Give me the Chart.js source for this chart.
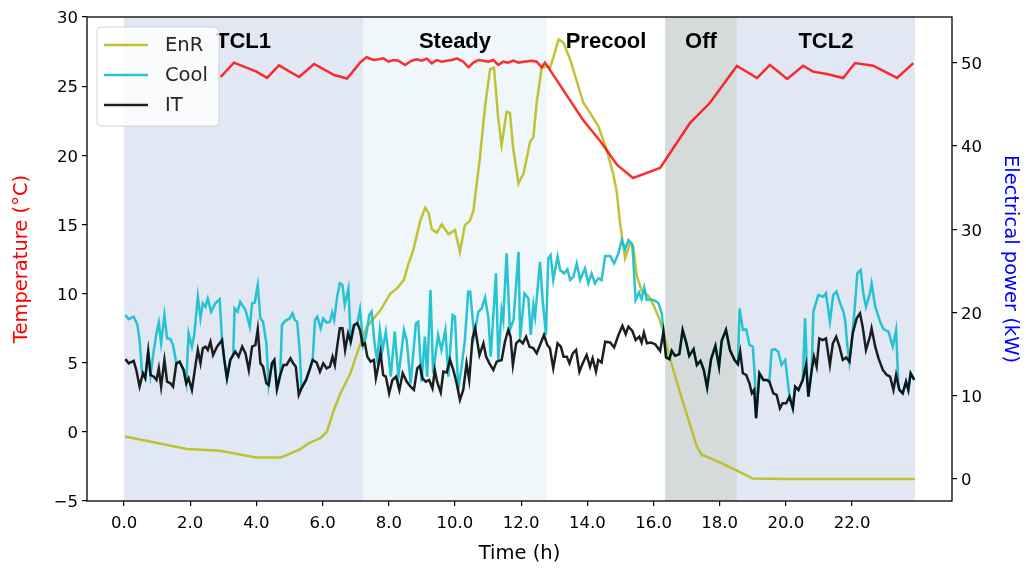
<!DOCTYPE html>
<html>
<head>
<meta charset="utf-8">
<script src="https://cdn.jsdelivr.net/npm/chart.js@4.4.1/dist/chart.umd.min.js"></script>
<style>
  html, body { margin: 0; padding: 0; background: #fff; }
  #wrap { width: 1026px; height: 570px; }
</style>
</head>
<body>
<div id="wrap"><canvas id="chart" width="1026" height="570"></canvas></div>
<script>
// Operating phases (hours)
const phaseLabels = ['TCL1', 'Steady', 'Precool', 'Off', 'TCL2'];
const phaseStart = [0, 7.22, 12.78, 16.35, 18.52];
const phaseEnd = [7.22, 12.78, 16.35, 18.52, 23.9];
const phaseColors = ['#e1e8f3', '#eff7fa', 'rgba(255,255,255,0)', '#d5dbdb', '#e1e8f3'];

const xTicks = [0, 2, 4, 6, 8, 10, 12, 14, 16, 18, 20, 22];
const tempTicks = [-5, 0, 5, 10, 15, 20, 25, 30];
const powerTicks = [0, 10, 20, 30, 40, 50];

// Room temperature (°C), [hour, value]
const tempData = [
  [2.92, 25.66], [3.32, 26.7], [4.0, 26.05], [4.32, 25.6], [4.68, 26.5], [5.29, 25.66], [5.74, 26.6],
  [6.35, 25.8], [6.74, 25.55], [7.13, 26.7], [7.33, 27.09], [7.54, 26.89], [7.69, 26.94], [7.84, 27.01],
  [7.99, 26.77], [8.14, 26.89], [8.29, 26.84], [8.49, 26.53], [8.69, 26.84], [8.84, 26.94], [8.99, 26.84],
  [9.15, 26.99], [9.30, 26.65], [9.45, 26.89], [9.60, 26.77], [9.75, 26.84], [9.91, 26.89], [10.06, 27.01],
  [10.25, 26.77], [10.41, 26.36], [10.56, 26.70], [10.71, 26.89], [10.86, 26.84], [11.01, 26.77], [11.16, 26.89],
  [11.31, 26.53], [11.46, 26.77], [11.61, 26.70], [11.76, 26.84], [11.92, 26.70], [12.07, 26.77], [12.32, 26.84],
  [12.47, 26.77], [12.62, 26.36], [12.72, 26.70], [12.82, 26.36], [13.87, 22.55], [14.4, 21.0], [14.9, 19.3],
  [15.38, 18.36], [16.2, 19.08], [17.1, 22.33], [17.7, 23.78], [18.52, 26.46], [19.13, 25.59], [19.52, 26.53],
  [20.04, 25.52], [20.52, 26.48], [20.82, 26.05], [21.24, 25.88], [21.73, 25.59], [22.09, 26.67], [22.64, 26.48],
  [23.36, 25.59], [23.85, 26.67]
];

// Renewable power (kW)
const enrData = [
  [0.03, 5.1], [1.9, 3.6], [2.9, 3.4], [4.0, 2.6], [4.73, 2.6], [4.93, 2.9], [5.33, 3.6], [5.58, 4.3],
  [5.93, 4.9], [6.13, 5.7], [6.34, 8.3], [6.54, 10.3], [6.84, 12.7], [7.04, 15.1], [7.34, 18.3], [7.75, 20.3],
  [8.05, 22.3], [8.25, 22.9], [8.45, 23.9], [8.6, 25.9], [8.74, 27.5], [8.95, 31.0], [9.1, 32.6], [9.2, 32.0],
  [9.3, 30.0], [9.45, 29.6], [9.6, 30.6], [9.8, 29.4], [10.0, 29.9], [10.15, 27.3], [10.3, 30.5], [10.45, 31.0],
  [10.56, 32.3], [10.75, 38.5], [10.91, 44.8], [11.06, 49.2], [11.18, 49.4], [11.31, 43.2], [11.41, 40.1],
  [11.56, 44.1], [11.66, 44.0], [11.76, 39.7], [11.92, 35.5], [12.07, 36.7], [12.27, 40.5], [12.37, 41.1],
  [12.47, 45.2], [12.62, 49.4], [12.77, 49.6], [12.87, 49.4], [12.97, 50.6], [13.13, 52.8], [13.28, 52.4],
  [13.48, 50.4], [13.68, 47.8], [13.88, 45.2], [14.08, 44.0], [14.33, 42.4], [14.59, 39.5], [14.79, 36.5],
  [14.89, 34.5], [14.99, 30.7], [15.14, 26.5], [15.29, 28.3], [15.39, 27.9], [15.49, 24.5], [15.64, 22.6],
  [15.85, 22.0], [16.0, 20.9], [16.15, 19.5], [16.30, 17.7], [16.45, 15.1], [16.9, 9.1], [17.31, 3.9],
  [17.46, 2.9], [17.61, 2.7], [18.0, 2.0], [18.52, 1.0], [19.0, 0.05], [20.0, 0], [22.0, 0], [23.9, 0]
];

// Cooling power (kW)
const coolData = [
  [0.04, 19.7], [0.14, 19.2], [0.29, 19.5], [0.40, 18.6], [0.47, 16.7], [0.54, 12.9], [0.57, 12.7], [0.64, 12.1],
  [0.73, 15.3], [0.80, 12.5], [0.90, 15.5], [0.98, 17.5], [1.05, 18.8], [1.12, 16.3], [1.22, 19.7], [1.30, 16.9],
  [1.40, 16.8], [1.48, 16.1], [1.58, 13.9], [1.68, 14.1], [1.80, 13.1], [1.88, 11.5], [1.95, 17.5], [2.05, 15.9],
  [2.12, 17.3], [2.23, 21.9], [2.31, 19.3], [2.38, 21.1], [2.46, 20.7], [2.53, 21.7], [2.63, 20.1], [2.76, 21.1],
  [2.89, 21.6], [2.96, 16.7], [3.03, 14.3], [3.11, 12.1], [3.21, 14.3], [3.30, 15.0], [3.34, 20.5], [3.43, 20.1],
  [3.51, 21.3], [3.67, 20.3], [3.80, 18.3], [3.87, 21.1], [3.95, 21.2], [4.04, 23.3], [4.12, 19.3], [4.20, 18.9],
  [4.30, 16.3], [4.37, 11.3], [4.47, 13.9], [4.54, 14.3], [4.62, 10.8], [4.72, 12.5], [4.77, 18.5], [4.87, 19.0],
  [5.01, 19.3], [5.09, 19.9], [5.16, 19.1], [5.23, 18.9], [5.31, 15.3], [5.36, 10.9], [5.50, 11.9], [5.62, 13.3],
  [5.70, 14.3], [5.77, 19.1], [5.84, 19.5], [5.94, 18.1], [6.02, 19.3], [6.12, 18.8], [6.22, 18.9], [6.29, 20.0],
  [6.35, 19.1], [6.44, 21.9], [6.52, 23.5], [6.60, 23.3], [6.67, 20.9], [6.78, 22.9], [6.85, 16.6], [6.95, 18.5],
  [7.05, 18.7], [7.13, 20.4], [7.23, 16.1], [7.31, 17.1], [7.41, 19.7], [7.48, 20.1], [7.58, 15.9], [7.65, 14.3],
  [7.73, 17.9], [7.81, 15.5], [7.91, 17.7], [7.98, 15.3], [8.06, 12.3], [8.18, 17.7], [8.29, 12.3], [8.46, 17.9],
  [8.54, 16.7], [8.66, 11.5], [8.82, 18.7], [8.89, 18.9], [8.99, 11.7], [9.09, 17.1], [9.16, 12.3], [9.26, 22.7],
  [9.34, 12.7], [9.49, 17.3], [9.59, 15.5], [9.71, 17.9], [9.80, 12.3], [9.93, 19.7], [10.00, 19.5], [10.10, 10.7],
  [10.20, 13.5], [10.30, 16.7], [10.40, 22.5], [10.46, 22.5], [10.58, 17.3], [10.71, 20.1], [10.81, 20.5],
  [10.91, 21.8], [11.01, 19.3], [11.08, 14.7], [11.24, 24.7], [11.31, 14.3], [11.41, 20.3], [11.46, 19.1],
  [11.56, 27.1], [11.66, 17.9], [11.77, 19.1], [11.92, 27.3], [11.97, 16.9], [12.10, 22.3], [12.22, 21.7],
  [12.29, 17.3], [12.37, 20.9], [12.42, 19.5], [12.57, 26.1], [12.65, 21.5], [12.75, 17.3], [12.82, 26.5],
  [12.89, 26.9], [12.97, 23.9], [13.10, 26.7], [13.18, 25.1], [13.30, 24.7], [13.40, 25.2], [13.48, 23.9],
  [13.58, 24.3], [13.68, 25.9], [13.78, 23.9], [13.93, 25.3], [14.03, 23.5], [14.13, 24.7], [14.23, 23.5],
  [14.33, 24.1], [14.43, 23.9], [14.54, 26.8], [14.69, 26.8], [14.81, 25.9], [14.94, 27.1], [15.04, 28.7],
  [15.14, 27.6], [15.24, 28.7], [15.36, 28.2], [15.46, 21.5], [15.56, 22.4], [15.64, 21.6], [15.72, 23.0],
  [15.80, 21.5], [15.92, 21.6], [16.05, 21.4], [16.15, 21.1], [16.25, 19.9], [16.30, 17.7], [16.38, 14.6],
  [16.48, 14.4], [16.55, 15.4], [16.65, 14.8], [16.78, 15.0], [16.88, 17.9], [16.98, 16.5], [17.08, 14.8],
  [17.21, 15.6], [17.31, 13.7], [17.42, 14.2], [17.52, 13.1], [17.62, 11.0], [17.74, 14.4], [17.87, 16.0],
  [17.98, 13.5], [18.06, 16.6], [18.19, 17.9], [18.31, 15.5], [18.45, 14.3], [18.55, 13.8], [18.60, 20.5],
  [18.70, 17.9], [18.80, 18.0], [18.90, 16.1], [19.00, 15.9], [19.06, 12.5], [19.10, 7.3], [19.20, 12.7],
  [19.32, 11.9], [19.42, 11.9], [19.50, 11.7], [19.57, 15.5], [19.67, 15.6], [19.77, 15.3], [19.87, 13.7],
  [19.98, 14.3], [20.05, 12.0], [20.11, 9.9], [20.21, 8.5], [20.28, 11.1], [20.38, 10.7], [20.51, 11.9],
  [20.58, 19.3], [20.64, 12.8], [20.68, 9.9], [20.78, 13.1], [20.83, 20.1], [20.98, 22.1], [21.13, 21.9],
  [21.21, 22.3], [21.33, 18.9], [21.43, 22.1], [21.53, 22.5], [21.64, 21.1], [21.74, 20.1], [21.79, 19.1],
  [21.86, 15.9], [21.92, 14.1], [22.02, 17.7], [22.09, 21.1], [22.16, 24.7], [22.26, 25.1], [22.34, 22.3],
  [22.42, 20.7], [22.54, 22.3], [22.59, 23.5], [22.70, 20.7], [22.85, 18.9], [22.95, 18.0], [23.10, 17.7],
  [23.23, 15.9], [23.33, 17.9], [23.40, 11.2], [23.43, 10.7], [23.53, 10.3], [23.63, 11.7], [23.70, 10.7],
  [23.77, 12.7], [23.88, 11.9]
];

// IT power (kW)
const itData = [
  [0.04, 14.4], [0.14, 13.9], [0.29, 14.2], [0.37, 13.1], [0.47, 11.1], [0.57, 12.7], [0.64, 12.1], [0.73, 15.3],
  [0.80, 12.5], [0.90, 12.3], [0.98, 11.9], [1.05, 13.3], [1.12, 11.1], [1.22, 14.3], [1.30, 11.7], [1.40, 11.5],
  [1.48, 11.1], [1.58, 13.9], [1.68, 14.1], [1.80, 13.1], [1.88, 11.5], [1.95, 12.1], [2.05, 10.7], [2.16, 13.7],
  [2.23, 15.5], [2.31, 13.9], [2.38, 15.7], [2.46, 15.9], [2.53, 15.5], [2.61, 16.5], [2.69, 14.9], [2.81, 15.9],
  [2.96, 16.7], [3.03, 14.3], [3.11, 12.1], [3.21, 14.3], [3.36, 15.3], [3.46, 14.7], [3.57, 15.9], [3.67, 15.1],
  [3.77, 13.1], [3.87, 15.9], [3.97, 16.1], [4.04, 18.0], [4.12, 13.9], [4.20, 13.5], [4.30, 11.5], [4.37, 11.3],
  [4.47, 13.9], [4.54, 14.3], [4.62, 10.8], [4.72, 12.5], [4.82, 13.7], [4.91, 13.7], [5.03, 14.5], [5.11, 13.9],
  [5.19, 13.5], [5.28, 10.1], [5.36, 10.9], [5.50, 11.9], [5.62, 13.3], [5.70, 14.3], [5.82, 14.0], [5.92, 12.9],
  [6.02, 13.9], [6.12, 13.3], [6.22, 13.5], [6.30, 14.7], [6.37, 13.7], [6.44, 15.9], [6.52, 18.1], [6.60, 18.1],
  [6.68, 15.5], [6.77, 17.5], [6.85, 16.5], [6.95, 18.5], [7.05, 18.7], [7.13, 17.9], [7.21, 16.1], [7.28, 16.3],
  [7.35, 14.7], [7.45, 14.1], [7.55, 14.3], [7.61, 12.1], [7.68, 13.5], [7.75, 15.2], [7.83, 12.5], [7.91, 12.3],
  [8.01, 10.3], [8.11, 11.9], [8.22, 12.3], [8.32, 10.7], [8.42, 12.7], [8.54, 11.7], [8.66, 11.1], [8.76, 10.7],
  [8.86, 13.3], [8.94, 13.6], [9.02, 12.1], [9.12, 11.7], [9.22, 11.9], [9.32, 10.9], [9.39, 13.1], [9.46, 11.7],
  [9.57, 10.4], [9.65, 12.9], [9.75, 12.8], [9.85, 14.3], [9.95, 13.1], [10.05, 11.5], [10.15, 9.5], [10.25, 10.7],
  [10.35, 13.9], [10.43, 11.9], [10.53, 16.9], [10.61, 18.1], [10.74, 14.9], [10.86, 16.3], [10.94, 14.7],
  [11.04, 13.9], [11.16, 13.1], [11.26, 14.1], [11.41, 14.3], [11.51, 16.5], [11.61, 17.9], [11.68, 17.1],
  [11.75, 13.7], [11.85, 16.3], [11.95, 16.7], [12.05, 16.3], [12.15, 17.1], [12.25, 15.9], [12.37, 15.7],
  [12.47, 15.1], [12.57, 16.1], [12.69, 17.3], [12.79, 16.1], [12.87, 15.7], [12.97, 13.3], [13.10, 16.3],
  [13.20, 15.9], [13.28, 14.7], [13.38, 14.7], [13.46, 13.9], [13.56, 15.1], [13.66, 15.5], [13.76, 12.9],
  [13.86, 13.9], [13.98, 14.9], [14.08, 13.5], [14.16, 14.5], [14.26, 12.9], [14.33, 14.3], [14.43, 14.0],
  [14.54, 16.5], [14.69, 16.4], [14.81, 15.8], [14.94, 17.3], [15.06, 18.4], [15.16, 17.4], [15.24, 18.3],
  [15.36, 17.8], [15.46, 16.7], [15.57, 17.1], [15.64, 16.4], [15.71, 17.6], [15.80, 16.3], [15.92, 16.4],
  [16.05, 16.2], [16.20, 15.4], [16.30, 17.7], [16.38, 14.6], [16.48, 14.4], [16.55, 15.4], [16.65, 14.8],
  [16.78, 15.0], [16.88, 17.9], [16.98, 16.5], [17.08, 14.8], [17.21, 15.6], [17.31, 13.7], [17.42, 14.2],
  [17.52, 13.1], [17.62, 11.0], [17.74, 14.4], [17.87, 16.0], [17.98, 13.5], [18.06, 16.6], [18.19, 17.9],
  [18.31, 15.5], [18.45, 14.3], [18.55, 13.8], [18.62, 15.3], [18.70, 12.7], [18.80, 12.5], [18.90, 11.5],
  [18.97, 10.3], [19.04, 10.7], [19.10, 7.3], [19.20, 12.7], [19.32, 11.9], [19.42, 11.9], [19.50, 11.7],
  [19.62, 10.3], [19.72, 10.1], [19.82, 8.5], [19.90, 9.1], [20.01, 9.1], [20.11, 9.9], [20.21, 8.5],
  [20.28, 11.1], [20.38, 10.7], [20.51, 11.9], [20.61, 13.7], [20.68, 9.9], [20.78, 13.1], [20.85, 14.7],
  [20.93, 13.5], [21.01, 16.9], [21.11, 16.7], [21.21, 16.9], [21.33, 13.7], [21.42, 16.3], [21.52, 17.1],
  [21.62, 15.9], [21.72, 14.3], [21.82, 14.6], [21.92, 14.1], [22.02, 17.5], [22.14, 19.3], [22.24, 19.9],
  [22.32, 18.3], [22.42, 15.5], [22.54, 17.1], [22.59, 18.1], [22.70, 15.9], [22.80, 14.5], [22.93, 13.1],
  [23.05, 12.5], [23.15, 12.3], [23.25, 10.7], [23.33, 12.5], [23.43, 10.7], [23.53, 10.3], [23.63, 11.7],
  [23.70, 10.7], [23.77, 12.7], [23.88, 11.9]
];

const COLORS = {
  enr: 'rgba(188, 189, 34, 0.92)',
  cool: 'rgba(23, 190, 207, 0.92)',
  it: 'rgba(0, 0, 0, 0.88)',
  temp: 'rgba(255, 0, 0, 0.82)',
};

const toXY = (arr) => arr.map(([x, y]) => ({ x, y }));
const FONT = '"DejaVu Sans", Verdana, sans-serif';

// phase shading, phase names, frame and legend box
const decor = {
  id: 'decor',
  beforeDatasetsDraw(chart) {
    const { ctx, chartArea: a, scales: { x } } = chart;
    ctx.save();
    ctx.beginPath();
    ctx.rect(a.left, a.top, a.width, a.height);
    ctx.clip();
    phaseStart.forEach((s, i) => {
      const x0 = x.getPixelForValue(s);
      const x1 = x.getPixelForValue(phaseEnd[i]);
      ctx.fillStyle = phaseColors[i];
      ctx.fillRect(x0, a.top, x1 - x0, a.height);
    });
    ctx.restore();
  },
  afterDatasetsDraw(chart) {
    const { ctx, chartArea: a, scales: { x } } = chart;
    ctx.save();
    ctx.font = 'bold 22px "Liberation Sans", Arial, sans-serif';
    ctx.fillStyle = '#000';
    ctx.textAlign = 'center';
    ctx.textBaseline = 'middle';
    phaseLabels.forEach((label, i) => {
      const cx = (x.getPixelForValue(phaseStart[i]) + x.getPixelForValue(phaseEnd[i])) / 2;
      ctx.fillText(label, cx, a.top + 25);
    });
    ctx.lineWidth = 1.3;
    ctx.strokeStyle = '#000';
    ctx.strokeRect(a.left, a.top, a.width, a.height);
    ctx.restore();
  },
  afterDraw(chart) {
    const { ctx, chartArea: a } = chart;
    const bx = a.left + 10, by = a.top + 10, bw = 122, bh = 99;
    ctx.save();
    ctx.beginPath();
    ctx.roundRect(bx, by, bw, bh, 4);
    ctx.fillStyle = 'rgba(255,255,255,0.8)';
    ctx.fill();
    ctx.strokeStyle = 'rgba(204,204,204,0.9)';
    ctx.lineWidth = 1;
    ctx.stroke();
    const items = [['EnR', COLORS.enr], ['Cool', COLORS.cool], ['IT', COLORS.it]];
    ctx.font = '19.5px ' + FONT;
    ctx.textBaseline = 'middle';
    items.forEach(([name, color], i) => {
      const y = by + 18 + i * 30;
      ctx.strokeStyle = color;
      ctx.lineWidth = 2.5;
      ctx.beginPath();
      ctx.moveTo(bx + 7, y);
      ctx.lineTo(bx + 51, y);
      ctx.stroke();
      ctx.fillStyle = '#262626';
      ctx.fillText(name, bx + 68, y + 1);
    });
    ctx.restore();
  },
};

const lineStyle = { borderWidth: 2.5, pointRadius: 0, tension: 0, fill: false };

new Chart(document.getElementById('chart'), {
  type: 'line',
  data: {
    datasets: [
      { label: 'EnR', data: toXY(enrData), borderColor: COLORS.enr, yAxisID: 'y1', order: 3, ...lineStyle },
      { label: 'Cool', data: toXY(coolData), borderColor: COLORS.cool, yAxisID: 'y1', order: 2, ...lineStyle },
      { label: 'IT', data: toXY(itData), borderColor: COLORS.it, yAxisID: 'y1', order: 1, ...lineStyle },
      { label: 'Temperature', data: toXY(tempData), borderColor: COLORS.temp, yAxisID: 'y', order: 0, ...lineStyle },
    ],
  },
  options: {
    responsive: false,
    animation: false,
    devicePixelRatio: 1,
    layout: { padding: { top: 17 } },
    plugins: { legend: { display: false }, tooltip: { enabled: false } },
    scales: {
      x: {
        type: 'linear',
        min: -1.12,
        max: 25.02,
        afterBuildTicks: (s) => { s.ticks = xTicks.map((v) => ({ value: v })); },
        afterFit: (s) => { s.height = 69; },
        ticks: { color: '#000', font: { family: FONT, size: 16.5 }, padding: 8, maxRotation: 0, callback: (v) => Number(v).toFixed(1) },
        grid: { drawOnChartArea: false, color: '#000', lineWidth: 1.2, tickLength: 5 },
        border: { display: false },
        title: { display: true, text: 'Time (h)', color: '#000', font: { family: FONT, size: 19.5 }, padding: { top: 2, bottom: 4 } },
      },
      y: {
        position: 'left',
        min: -5,
        max: 30,
        afterBuildTicks: (s) => { s.ticks = tempTicks.map((v) => ({ value: v })); },
        afterFit: (s) => { s.width = 87; },
        ticks: { color: '#000', font: { family: FONT, size: 16.5 }, padding: 4, labelOffset: 2, callback: (v) => (v < 0 ? '\u2212' + Math.abs(v) : String(v)) },
        grid: { drawOnChartArea: false, color: '#000', lineWidth: 1.2, tickLength: 5 },
        border: { display: false },
        title: { display: true, text: 'Temperature (°C)', color: '#ff0000', font: { family: FONT, size: 19.5 }, padding: { top: 10, bottom: 4 } },
      },
      y1: {
        position: 'right',
        min: -2.64,
        max: 55.5,
        afterBuildTicks: (s) => { s.ticks = powerTicks.map((v) => ({ value: v })); },
        afterFit: (s) => { s.width = 74; },
        ticks: { color: '#000', font: { family: FONT, size: 16.5 }, padding: 4, labelOffset: 2 },
        grid: { drawOnChartArea: false, color: '#000', lineWidth: 1.2, tickLength: 5 },
        border: { display: false },
        title: { display: true, text: 'Electrical power (kW)', color: '#0000ff', font: { family: FONT, size: 19.5 }, padding: { top: 4, bottom: 4 } },
      },
    },
  },
  plugins: [decor],
});
</script>
</body>
</html>
